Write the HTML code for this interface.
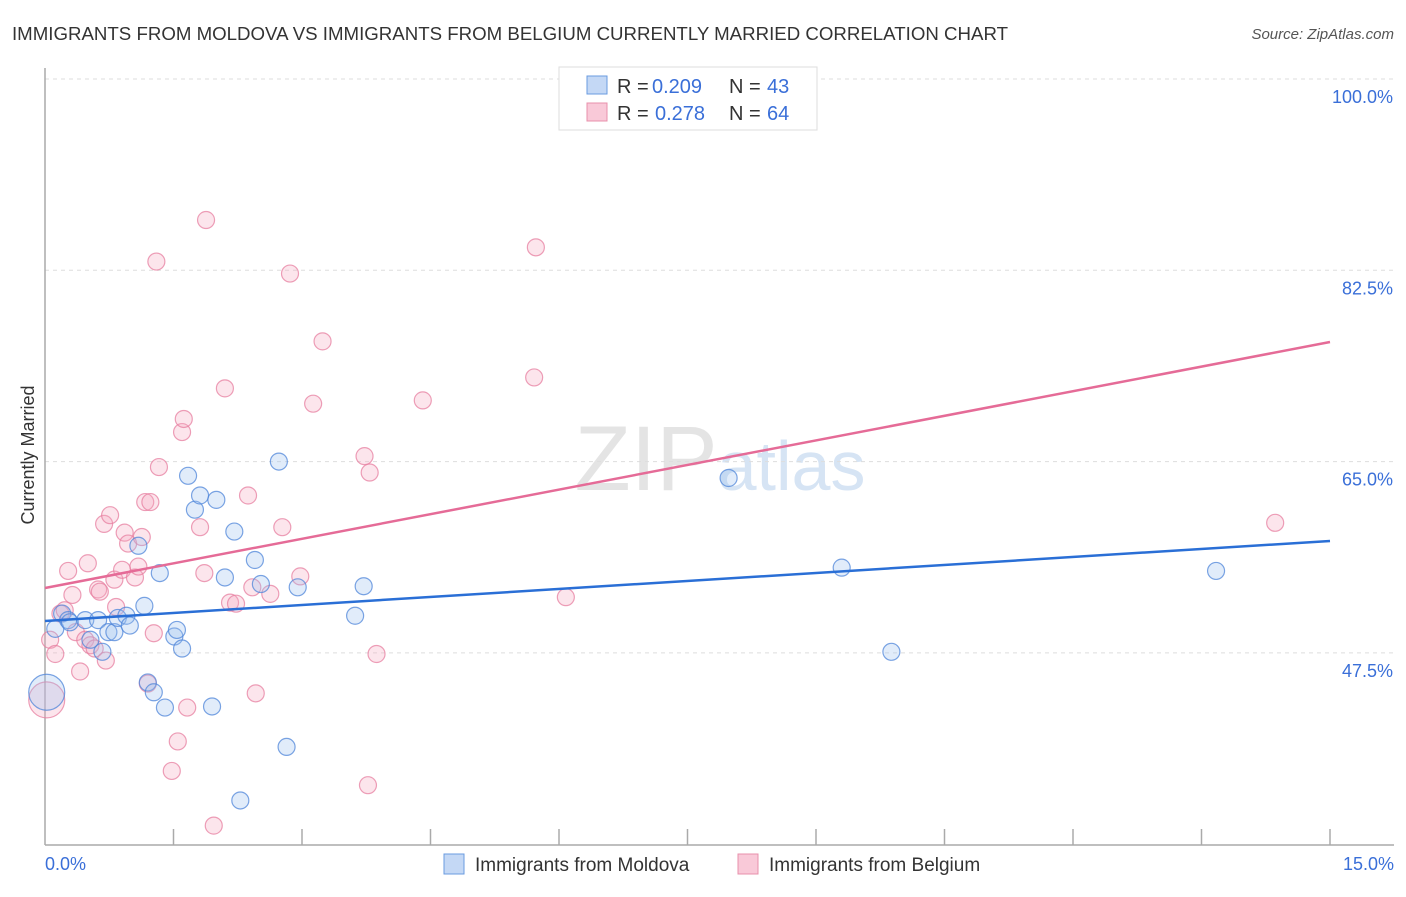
<!DOCTYPE html>
<html><head><meta charset="utf-8"><style>
body{margin:0;background:#fff;font-family:"Liberation Sans",sans-serif;}
svg text{font-family:"Liberation Sans",sans-serif;}
</style></head><body>
<svg width="1406" height="892">
<text x="12" y="40" font-size="18" fill="#333" textLength="996" lengthAdjust="spacingAndGlyphs">IMMIGRANTS FROM MOLDOVA VS IMMIGRANTS FROM BELGIUM CURRENTLY MARRIED CORRELATION CHART</text>
<text x="1394" y="39" font-size="15" fill="#555" text-anchor="end" font-style="italic">Source: ZipAtlas.com</text>
<text x="720" y="490" font-size="92" fill="#e4e4e4" text-anchor="middle" font-family="Liberation Serif">ZIP<tspan fill="#d6e4f4" font-family="Liberation Sans" font-size="70">atlas</tspan></text>
<g id="grid"></g><g id="axes"></g><g id="pts"></g><g id="lines"></g>
<text x="34" y="455" font-size="18" fill="#333" text-anchor="middle" transform="rotate(-90 34 455)">Currently Married</text>
<g>
<rect x="559" y="67" width="258" height="63" fill="#fff" stroke="#ddd"/>
<rect x="587" y="76" width="20" height="18" fill="#c4d8f5" stroke="#6a9be0"/>
<rect x="587" y="103" width="20" height="18" fill="#f9c9d8" stroke="#e890ab"/>
<text x="617" y="93" font-size="20" fill="#333">R =</text>
<text x="652" y="93" font-size="20" fill="#3a6fd8">0.209</text>
<text x="729" y="93" font-size="20" fill="#333">N =</text>
<text x="767" y="93" font-size="20" fill="#3a6fd8">43</text>
<text x="617" y="120" font-size="20" fill="#333">R =</text>
<text x="655" y="120" font-size="20" fill="#3a6fd8">0.278</text>
<text x="729" y="120" font-size="20" fill="#333">N =</text>
<text x="767" y="120" font-size="20" fill="#3a6fd8">64</text>
</g>
<g>
<rect x="444" y="854" width="20" height="20" fill="#c4d8f5" stroke="#6a9be0"/>
<text x="475" y="871" font-size="19" fill="#333">Immigrants from Moldova</text>
<rect x="738" y="854" width="20" height="20" fill="#f9c9d8" stroke="#e890ab"/>
<text x="769" y="871" font-size="19" fill="#333">Immigrants from Belgium</text>
</g>
</svg>
<script>
const yTicks=[47.5,65.0,82.5,100.0];
const xTickLabels=["0.0%","15.0%"];
const moldovaX=[0.02,0.12,0.20,0.27,0.29,0.47,0.53,0.62,0.67,0.74,0.81,0.85,0.95,0.99,1.16,1.20,1.27,1.34,1.40,1.51,1.54,1.60,1.67,1.75,1.81,1.95,2.00,2.10,2.21,2.28,2.45,2.52,2.73,2.82,2.95,3.62,3.72,7.98,9.30,9.88,13.67,1.09];
const moldovaY=[43.9,49.7,51.1,50.5,50.3,50.5,48.7,50.5,47.6,49.4,49.4,50.7,50.9,50.0,51.8,44.8,43.9,54.8,42.5,49.0,49.6,47.9,63.7,60.6,61.9,42.6,61.5,54.4,58.6,34.0,56.0,53.8,65.0,38.9,53.5,50.9,53.6,63.5,55.3,47.6,55.0,57.3];
const belgiumX=[0.02,0.06,0.12,0.18,0.23,0.27,0.32,0.36,0.41,0.47,0.50,0.53,0.58,0.62,0.64,0.69,0.71,0.76,0.81,0.83,0.90,0.93,0.97,1.05,1.09,1.13,1.17,1.20,1.23,1.27,1.30,1.33,1.48,1.55,1.60,1.62,1.66,1.81,1.86,1.88,1.97,2.10,2.16,2.23,2.37,2.42,2.46,2.63,2.77,2.86,2.98,3.13,3.24,3.73,3.79,3.77,3.87,4.41,5.71,5.73,6.08,14.36];
const belgiumY=[43.2,48.7,47.4,51.1,51.4,55.0,52.8,49.4,45.8,48.7,55.7,48.2,47.9,53.3,53.1,59.3,46.8,60.1,54.2,51.7,55.1,58.5,57.5,54.4,55.4,58.1,61.3,44.7,61.3,49.3,83.3,64.5,36.7,39.4,67.7,68.9,42.5,59.0,54.8,87.1,31.7,71.7,52.1,52.0,61.9,53.5,43.8,52.9,59.0,82.2,54.5,70.3,76.0,65.5,64.0,35.4,47.4,70.6,72.7,84.6,52.6,59.4];
const trendMoldova=[50.42,57.74];
const trendBelgium=[53.44,75.94];
const NS="http://www.w3.org/2000/svg";
const X=v=>45+v/15*1285;
const Y=v=>79+(100-v)/17.5*191.3;
function mk(t,a,p){const e=document.createElementNS(NS,t);for(const k in a)e.setAttribute(k,a[k]);p.appendChild(e);return e;}
const grid=document.getElementById('grid'),axes=document.getElementById('axes'),pts=document.getElementById('pts'),lines=document.getElementById('lines');
yTicks.forEach(t=>{const l=mk('line',{x1:45,x2:1394,y1:Y(t),y2:Y(t),stroke:'#ddd','stroke-dasharray':'4 4'},grid);


const tx=mk('text',{x:1393,y:Y(t)+24,'font-size':18,fill:'#3a6fd8','text-anchor':'end'},axes);tx.textContent=t.toFixed(1)+'%';

});
const ax=mk('line',{x1:45,x2:45,y1:68,y2:845,stroke:'#aaa','stroke-width':1.5},axes);


const bx=mk('line',{x1:45,x2:1394,y1:845,y2:845,stroke:'#aaa','stroke-width':1.5},axes);


for(let i=1;i<=10;i++){const t=mk('line',{x1:X(i*1.5),x2:X(i*1.5),y1:829,y2:845,stroke:'#aaa','stroke-width':1.5},axes);

}
[[0,'start',45],[1,'end',1394]].forEach(([i,a,x])=>{const t=mk('text',{x:x,y:870,'font-size':18,fill:'#3a6fd8','text-anchor':a},axes);t.textContent=xTickLabels[i];

});
function series(xs,ys,fill,stroke,name){xs.forEach((x,i)=>{const r=(i===0)?18:8.5;const c=mk('circle',{cx:X(x),cy:Y(ys[i]),r:r,fill:fill,'fill-opacity':0.3,stroke:stroke,'stroke-width':1.2,'stroke-opacity':0.75},pts);

});}
series(belgiumX,belgiumY,'#f4a8c0','#e77fa0','point-belgium');
series(moldovaX,moldovaY,'#9cc0ee','#4f86d9','point-moldova');
const l1=mk('line',{x1:X(0),y1:Y(trendBelgium[0]),x2:X(15),y2:Y(trendBelgium[1]),stroke:'#e56b97','stroke-width':2.5},lines);


const l2=mk('line',{x1:X(0),y1:Y(trendMoldova[0]),x2:X(15),y2:Y(trendMoldova[1]),stroke:'#2a6fd6','stroke-width':2.5},lines);


</script>
</body></html>
